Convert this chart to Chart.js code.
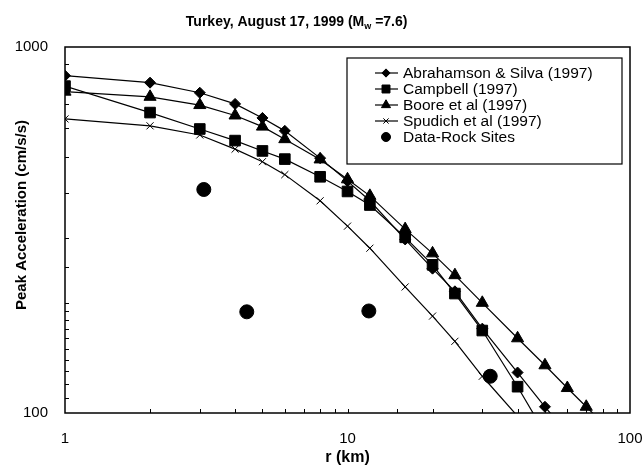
<!DOCTYPE html>
<html>
<head>
<meta charset="utf-8">
<script src="https://cdn.jsdelivr.net/npm/chart.js@4.4.0/dist/chart.umd.min.js"></script>
<style>
  html, body { margin: 0; padding: 0; background: #fff; }
</style>
</head>
<body>
<canvas id="pga" width="644" height="472"></canvas>
<script>
// distance (km) and peak acceleration (cm/s/s)
var distances = [1, 2, 3, 4, 5, 6, 8, 10, 12, 16, 20, 24, 30, 40, 50, 60, 70, 80];
var abrahamsonSilva = [835, 799, 750, 699, 640, 590, 497, 430, 380, 298, 248, 215, 170, 129, 104, 88];
var campbell = [782, 662, 597, 555, 520, 494, 442, 403, 370, 302, 254, 212, 168, 118, 88];
var boore = [755, 731, 694, 650, 606, 560, 493, 435, 392, 318, 273, 238, 200, 160, 135, 117, 104, 94];
var spudich = [636, 609, 575, 526, 486, 448, 380, 324, 282, 221, 184, 157, 126, 98];
var rockDist = [3.1, 4.4, 11.9, 32];
var rockPga = [408, 189, 190, 126];
var xTickLabels = [1, 10, 100];
var yTickLabels = [100, 1000];

var FONT = '"Liberation Sans", Arial, Helvetica, sans-serif';

function pairs(xs, ys) {
    return ys.map(function (y, i) { return { x: xs[i], y: y }; });
}

// hide markers that fall under the bottom of the axis
function markerSize(size) {
    return function (c) {
        return (c.raw && c.raw.y < 100) ? 0 : size;
    };
}

function series(label, ys, style, size, line) {
    return {
        label: label,
        data: pairs(distances, ys),
        showLine: line,
        borderColor: '#000',
        backgroundColor: '#000',
        borderWidth: 1.2,
        tension: 0,
        pointStyle: style,
        pointRadius: markerSize(size),
        legendSize: size,
        pointBorderWidth: 1,
        pointBorderColor: '#000',
        pointBackgroundColor: '#000'
    };
}

function onList(list) {
    return function (v) {
        for (var i = 0; i < list.length; i++) {
            if (Math.abs(v - list[i]) < 1e-6) return String(list[i]);
        }
        return '';
    };
}

var decorations = {
    id: 'decorations',
    beforeDatasetsDraw: function (chart) {
        var ctx = chart.ctx, a = chart.chartArea;
        var xs = chart.scales.x, ys = chart.scales.y;
        ctx.save();
        ctx.strokeStyle = '#000';
        ctx.lineWidth = 1.5;
        ctx.strokeRect(a.left, a.top, a.right - a.left, a.bottom - a.top);
        // small inner ticks
        ctx.lineWidth = 1;
        xs.ticks.forEach(function (t) {
            var px = Math.round(xs.getPixelForValue(t.value)) + 0.5;
            if (px <= a.left + 1 || px >= a.right - 1) return;
            ctx.beginPath();
            ctx.moveTo(px, a.bottom);
            ctx.lineTo(px, a.bottom - 4);
            ctx.stroke();
        });
        ys.ticks.forEach(function (t) {
            var py = Math.round(ys.getPixelForValue(t.value)) + 0.5;
            if (py <= a.top + 1 || py >= a.bottom - 1) return;
            ctx.beginPath();
            ctx.moveTo(a.left, py);
            ctx.lineTo(a.left + 4, py);
            ctx.stroke();
        });
        ctx.restore();
    },
    afterDraw: function (chart) {
        var ctx = chart.ctx, a = chart.chartArea;
        ctx.save();
        ctx.fillStyle = '#000';

        // title with subscript w
        var p1 = 'Turkey, August 17, 1999 (M', sub = 'w', p2 = ' =7.6)';
        var big = 'bold 14px ' + FONT, small = 'bold 9px ' + FONT;
        ctx.font = big;
        var w1 = ctx.measureText(p1).width, w2 = ctx.measureText(p2).width;
        ctx.font = small;
        var ws = ctx.measureText(sub).width;
        var cx = a.left + 0.41 * (a.right - a.left);
        var x0 = cx - (w1 + ws + w2) / 2;
        ctx.textBaseline = 'alphabetic';
        ctx.textAlign = 'left';
        ctx.font = big;
        ctx.fillText(p1, x0, 26);
        ctx.font = small;
        ctx.fillText(sub, x0 + w1, 29);
        ctx.font = big;
        ctx.fillText(p2, x0 + w1 + ws, 26);

        // y axis title
        ctx.save();
        ctx.translate(22, 215);
        ctx.rotate(-Math.PI / 2);
        ctx.font = 'bold 15px ' + FONT;
        ctx.textAlign = 'center';
        ctx.textBaseline = 'middle';
        ctx.fillText('Peak Acceleration (cm/s/s)', 0, 0);
        ctx.restore();

        // legend box
        var bw = 275, bh = 106;
        var bx = a.right - 8 - bw, by = a.top + 11;
        ctx.fillStyle = '#fff';
        ctx.fillRect(bx, by, bw, bh);
        ctx.strokeStyle = '#000';
        ctx.lineWidth = 1.2;
        ctx.strokeRect(bx, by, bw, bh);
        ctx.font = '15.5px ' + FONT;
        ctx.textAlign = 'left';
        ctx.textBaseline = 'middle';
        chart.data.datasets.forEach(function (ds, i) {
            var ry = by + 15 + i * 16;
            ctx.fillStyle = '#000';
            ctx.strokeStyle = '#000';
            ctx.lineWidth = 1.2;
            if (ds.showLine) {
                ctx.beginPath();
                ctx.moveTo(bx + 28, ry);
                ctx.lineTo(bx + 51, ry);
                ctx.stroke();
            }
            ctx.lineWidth = 1;
            Chart.helpers.drawPoint(ctx, {
                pointStyle: ds.pointStyle,
                radius: ds.legendSize * 0.75,
                rotation: 0,
                borderWidth: 1
            }, bx + 39, ry);
            ctx.fillStyle = '#000';
            ctx.fillText(ds.label, bx + 56, ry + 1);
        });
        ctx.restore();
    }
};

var rock = {
    label: 'Data-Rock Sites',
    data: pairs(rockDist, rockPga),
    showLine: false,
    pointStyle: 'circle',
    pointRadius: 7,
    legendSize: 6,
    pointBorderWidth: 1,
    pointBorderColor: '#000',
    pointBackgroundColor: '#000',
    borderColor: '#000',
    backgroundColor: '#000'
};

new Chart(document.getElementById('pga').getContext('2d'), {
    type: 'scatter',
    data: {
        datasets: [
            series('Abrahamson & Silva (1997)', abrahamsonSilva, 'rectRot', 5.5, true),
            series('Campbell (1997)', campbell, 'rect', 7.5, true),
            series('Boore et al (1997)', boore, 'triangle', 7, true),
            series('Spudich et al (1997)', spudich, 'crossRot', 5, true),
            rock
        ]
    },
    plugins: [decorations],
    options: {
        responsive: false,
        animation: false,
        layout: { padding: { top: 47, right: 14, left: 0, bottom: 0 } },
        plugins: {
            legend: { display: false },
            tooltip: { enabled: false },
            title: { display: false }
        },
        scales: {
            x: {
                type: 'logarithmic',
                min: 1,
                max: 100,
                grid: { display: false, drawTicks: false },
                border: { display: false },
                ticks: {
                    autoSkip: false,
                    maxRotation: 0,
                    padding: 17,
                    color: '#000',
                    font: { family: FONT, size: 15 },
                    callback: onList(xTickLabels)
                },
                title: {
                    display: true,
                    text: 'r (km)',
                    color: '#000',
                    font: { family: FONT, size: 16, weight: 'bold' },
                    padding: { top: 0, bottom: 5 }
                },
                afterFit: function (s) {
                    s.height = 59;
                    s.paddingLeft = 0;
                    s.paddingRight = 0;
                }
            },
            y: {
                type: 'logarithmic',
                min: 100,
                max: 1000,
                grid: { display: false, drawTicks: false },
                border: { display: false },
                ticks: {
                    autoSkip: false,
                    padding: 17,
                    color: '#000',
                    font: { family: FONT, size: 15 },
                    callback: onList(yTickLabels)
                },
                afterFit: function (s) { s.width = 65; }
            }
        }
    }
});
</script>
</body>
</html>
